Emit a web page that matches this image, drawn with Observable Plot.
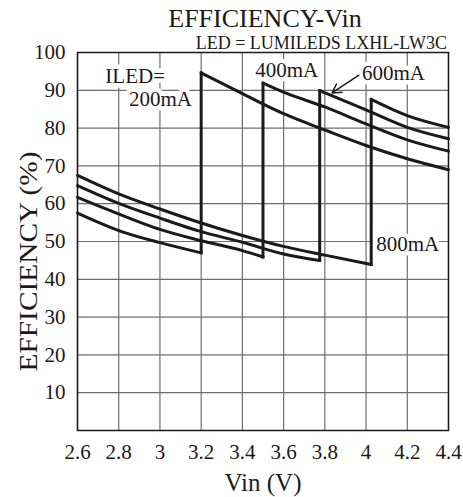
<!DOCTYPE html>
<html><head><meta charset="utf-8">
<script src="https://cdn.jsdelivr.net/npm/d3@7"></script>
<script src="https://cdn.jsdelivr.net/npm/@observablehq/plot@0.6"></script>
<style>
body{margin:0;background:#fff;}
#wrap{position:relative;width:463px;height:497px;overflow:hidden;font-family:"Liberation Serif",serif;color:#1a1a1a;}
#title{position:absolute;left:0;top:6px;width:530px;text-align:center;font-size:26px;line-height:26px;white-space:nowrap;}
#sub{position:absolute;left:0;top:34px;width:447px;text-align:right;font-size:18px;line-height:18px;white-space:nowrap;}
svg [aria-label="x-axis label"] text{font-size:25px;}
</style></head>
<body>
<div id="wrap">
<div id="chart"></div>
<div id="title">EFFICIENCY-Vin</div>
<div id="sub">LED = LUMILEDS LXHL-LW3C</div>
</div>
<script>
// Series (ILED) data
const vin200 = [2.6, 2.8, 3.0, 3.2, 3.2, 3.4, 3.6, 3.8, 4.0, 4.2, 4.4];
const eff200 = [57.5, 52.9, 49.7, 47.0, 94.6, 89.1, 83.8, 79.5, 75.4, 71.9, 69.0];
const vin400 = [2.6, 2.8, 3.0, 3.2, 3.4, 3.5, 3.5, 3.6, 3.8, 4.0, 4.2, 4.4];
const eff400 = [61.7, 57.3, 53.2, 50.2, 47.6, 45.9, 91.9, 89.5, 85.6, 81.1, 76.9, 73.9];
const vin600 = [2.6, 2.8, 3.0, 3.2, 3.4, 3.6, 3.775, 3.775, 4.0, 4.2, 4.4];
const eff600 = [64.8, 60.1, 56.2, 52.6, 49.8, 46.7, 45.0, 89.9, 84.8, 80.2, 77.2];
const vin800 = [2.6, 2.8, 3.0, 3.2, 3.4, 3.6, 3.8, 4.025, 4.025, 4.2, 4.4];
const eff800 = [67.5, 62.6, 58.6, 54.9, 51.6, 48.7, 46.4, 43.9, 87.6, 83.3, 80.2];

const seriesNames = ["200mA", "400mA", "600mA", "800mA"];
const seriesVin = [vin200, vin400, vin600, vin800];
const seriesEff = [eff200, eff400, eff600, eff800];

const xTicks = [2.6, 2.8, 3.0, 3.2, 3.4, 3.6, 3.8, 4.0, 4.2, 4.4];
const yTicks = [10, 20, 30, 40, 50, 60, 70, 80, 90, 100];
const yGrid = [10, 20, 30, 40, 50, 60, 70, 80, 90];

// Annotations
const labelText = ["ILED=", "200mA", "400mA", "600mA", "800mA"];
const labelVin = [2.735, 3.155, 3.462, 3.98, 4.049];
const labelEff = [93.6, 87.6, 95.2, 94.5, 49.2];
const labelAnchor = ["start", "end", "start", "start", "start"];
const arrowFrom = {vin: 3.965, eff: 94.0};
const arrowTo = {vin: 3.835, eff: 89.3};
const yTitle = "EFFICIENCY (%)";
const xTitle = "Vin (V)";

// Build smooth segments (before/after the jump) and the vertical jumps
const curveRows = [], jumpRows = [];
seriesNames.forEach((s, i) => {
  const v = seriesVin[i], e = seriesEff[i];
  const k = v.findIndex((x, j) => j > 0 && x === v[j - 1]);
  v.forEach((x, j) => curveRows.push({key: s + (j < k ? "-lo" : "-hi"), vin: x, eff: e[j]}));
  jumpRows.push({s, vin: v[k - 1], eff: e[k - 1]}, {s, vin: v[k], eff: e[k]});
});
const labels = labelText.map((t, i) => ({t, vin: labelVin[i], eff: labelEff[i], a: labelAnchor[i]}));

const chart = Plot.plot({
  width: 463, height: 497,
  marginLeft: 77, marginRight: 15, marginTop: 52, marginBottom: 67,
  x: {domain: [2.6, 4.4]},
  y: {domain: [0, 100]},
  style: {fontFamily: "Liberation Serif, serif", fontSize: "21px", color: "#1a1a1a", background: "white", overflow: "visible"},
  marks: [
    Plot.ruleX(xTicks, {stroke: "#6e6e6e", strokeWidth: 1.2}),
    Plot.ruleY(yGrid, {stroke: "#6e6e6e", strokeWidth: 1.2}),
    Plot.text(labels.filter(d => d.a === "start"), {x: "vin", y: "eff", text: "t", textAnchor: "start", fill: "#1a1a1a", stroke: "white", strokeWidth: 9, fontSize: 21}),
    Plot.text(labels.filter(d => d.a === "end"), {x: "vin", y: "eff", text: "t", textAnchor: "end", fill: "#1a1a1a", stroke: "white", strokeWidth: 9, fontSize: 21}),
    Plot.line(curveRows, {x: "vin", y: "eff", z: "key", curve: "monotone-x", stroke: "#1a1a1a", strokeWidth: 3}),
    Plot.line(jumpRows, {x: "vin", y: "eff", z: "s", stroke: "#1a1a1a", strokeWidth: 3, strokeLinecap: "square"}),
    Plot.arrow([{x1: arrowFrom.vin, y1: arrowFrom.eff, x2: arrowTo.vin, y2: arrowTo.eff}], {x1: "x1", y1: "y1", x2: "x2", y2: "y2", stroke: "#1a1a1a", strokeWidth: 1.5, headLength: 10}),
    Plot.frame({stroke: "#1a1a1a", strokeWidth: 1.5}),
    Plot.axisX({ticks: xTicks, tickSize: 0, tickPadding: 14, tickFormat: d => String(+d.toFixed(1)), label: xTitle, labelAnchor: "center", labelOffset: 60, labelArrow: "none"}),
    Plot.axisY({ticks: yTicks, tickSize: 0, tickPadding: 12, label: null}),
    Plot.text([yTitle], {frameAnchor: "left", text: d => d, rotate: -90, textAnchor: "middle", lineAnchor: "middle", dx: -49, dy: 20, fontSize: 25, fill: "#1a1a1a"})
  ]
});
document.getElementById("chart").appendChild(chart);
// stretch the rotated y title slightly, as in the original
chart.querySelectorAll("text").forEach(t => {
  if (t.textContent === yTitle) { t.setAttribute("textLength", "220"); t.setAttribute("lengthAdjust", "spacingAndGlyphs"); }
});
</script>
</body></html>
